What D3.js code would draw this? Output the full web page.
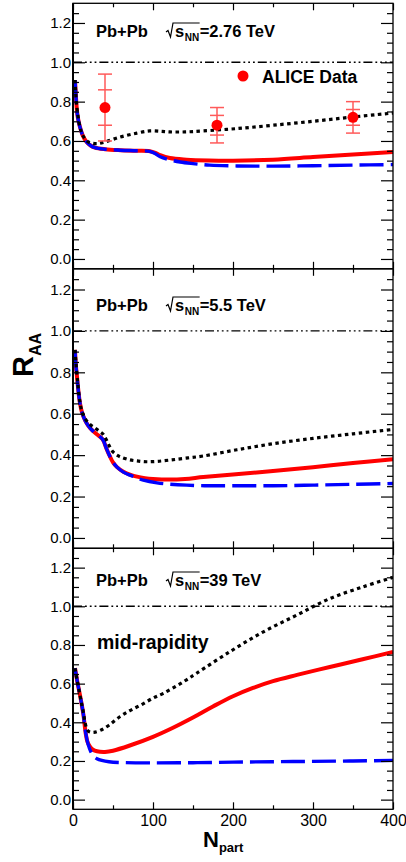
<!DOCTYPE html>
<html><head><meta charset="utf-8">
<script src="https://cdn.jsdelivr.net/npm/d3@7"></script>
<style>
body{margin:0;background:#fff}
svg{display:block}
text{font-family:"Liberation Sans",Arial,Helvetica,sans-serif}
</style>
</head><body>
<svg id="c" width="406" height="862"></svg>
<script>
// ---------------- data ----------------
const energies = ["2.76", "5.5", "39"];
const xTickValues = [0, 100, 200, 300, 400];
const xMinorValues = [50, 150, 250, 350];
const yTickValues = [0, 0.2, 0.4, 0.6, 0.8, 1.0, 1.2];

// Pb+Pb 2.76 TeV  [Npart, R_AA]
const red276 = [[2.5,0.91],[3.5,0.84],[4.6,0.77],[6,0.72],[8.75,0.67],[12,0.63],[17,0.595],[22,0.577],[27.5,0.566],[40,0.558],[59,0.553],[80,0.55],[96,0.548],[103,0.54],[109,0.528],[121,0.513],[142,0.505],[170,0.501],[200,0.5],[250,0.505],[300,0.518],[350,0.531],[400,0.544]];
const blue276 = [[2.5,0.91],[3.5,0.84],[4.6,0.77],[6,0.72],[8.75,0.67],[12,0.63],[17,0.595],[22,0.577],[27.5,0.566],[40,0.558],[59,0.553],[80,0.55],[96,0.547],[103,0.535],[109,0.52],[120,0.505],[134,0.493],[150,0.485],[171,0.477],[205,0.473],[250,0.472],[300,0.474],[350,0.477],[400,0.48]];
const black276 = [[2.5,0.91],[4.6,0.78],[8.75,0.67],[12,0.63],[19,0.595],[25,0.588],[31.6,0.587],[40,0.595],[59,0.62],[80,0.64],[96,0.651],[110,0.649],[121,0.646],[140,0.646],[163,0.651],[205,0.663],[250,0.68],[300,0.7],[350,0.722],[400,0.742]];

// Pb+Pb 5.5 TeV
const red55 = [[2.5,0.908],[3.5,0.84],[5.4,0.763],[7,0.7],[8.75,0.65],[11,0.61],[15,0.569],[19,0.543],[23,0.524],[29,0.503],[36,0.481],[38,0.47],[42,0.43],[46,0.395],[50,0.365],[55,0.342],[63,0.32],[72,0.305],[80,0.296],[90,0.289],[100,0.285],[121,0.282],[140,0.285],[163,0.294],[200,0.306],[250,0.323],[300,0.342],[350,0.362],[400,0.38]];
const blue55 = [[2.5,0.908],[3.5,0.84],[5.4,0.763],[7,0.7],[8.75,0.65],[11,0.61],[15,0.569],[19,0.543],[23,0.524],[29,0.503],[36,0.481],[38,0.47],[42,0.43],[46,0.395],[50,0.365],[55,0.342],[63,0.318],[72,0.302],[80,0.29],[88,0.279],[105,0.266],[120,0.26],[142,0.255],[170,0.252],[200,0.252],[250,0.252],[300,0.255],[350,0.259],[400,0.263]];
const black55 = [[2.5,0.908],[5.4,0.77],[8.75,0.655],[11,0.615],[15,0.578],[21,0.549],[28,0.53],[34,0.513],[38,0.5],[42,0.472],[46,0.44],[50,0.416],[55,0.4],[59,0.392],[70,0.378],[80,0.372],[92,0.368],[105,0.37],[121,0.376],[140,0.385],[163,0.396],[205,0.426],[250,0.455],[300,0.481],[350,0.503],[400,0.524]];

// Pb+Pb 39 TeV
const red39 = [[2.5,0.68],[5,0.62],[8.75,0.54],[11,0.49],[13,0.44],[16,0.34],[18,0.3],[21,0.275],[25,0.258],[30,0.25],[40,0.247],[50,0.253],[71,0.28],[100,0.325],[125,0.372],[150,0.425],[175,0.482],[200,0.535],[225,0.578],[250,0.613],[280,0.645],[321,0.686],[362,0.726],[400,0.764]];
const blue39 = [[2.5,0.68],[5,0.62],[8.75,0.54],[11,0.49],[13,0.44],[15,0.37],[17,0.32],[19,0.285],[22,0.25],[26,0.225],[30,0.212],[36,0.203],[45,0.196],[60,0.192],[100,0.19],[150,0.191],[200,0.194],[250,0.196],[300,0.198],[350,0.2],[400,0.203]];
const black39 = [[2.5,0.68],[5,0.62],[8.75,0.54],[11,0.49],[13,0.45],[15,0.4],[18,0.36],[21,0.35],[26,0.348],[34,0.358],[45,0.385],[59,0.43],[71,0.46],[85,0.49],[100,0.525],[113,0.55],[130,0.59],[142,0.62],[155,0.655],[196,0.765],[238,0.868],[280,0.955],[321,1.04],[362,1.1],[400,1.15]];

// ALICE data (2.76 TeV)
const aliceN = [40, 180, 350];
const aliceR = [0.77, 0.68, 0.72];
const aliceStat = [0.09, 0.05, 0.04];
const aliceSys = [0.17, 0.09, 0.08];

// ---------------- layout ----------------
const svg = d3.select("#c");
const xL = 73, xR = 393;
const panels = [
  {top: 3.3, bottom: 268.8, red: red276, blue: blue276, black: black276, titleY: 37},
  {top: 268.8, bottom: 548.3, red: red55, blue: blue55, black: black55, titleY: 311},
  {top: 548.3, bottom: 809.3, red: red39, blue: blue39, black: black39, titleY: 586}
];
const x = d3.scaleLinear().domain([0, 400]).range([xL, xR]);
const yMinor = d3.range(-0.05, 1.31, 0.05).map(v => +v.toFixed(2)).filter(v => yTickValues.indexOf(v) < 0 && v > -0.04 && v < 1.29);

panels.forEach((p, i) => {
  const y = d3.scaleLinear().domain([-0.05, 1.3]).range([p.bottom, p.top]);
  const g = svg.append("g");
  const clipId = "clip" + i;
  g.append("clipPath").attr("id", clipId).append("rect")
    .attr("x", xL).attr("y", p.top).attr("width", xR - xL).attr("height", p.bottom - p.top);

  // reference line at 1
  g.append("line").attr("x1", xL).attr("x2", xR).attr("y1", y(1)).attr("y2", y(1))
    .attr("stroke", "#000").attr("stroke-width", 1.4)
    .attr("stroke-dasharray", "9,3,1.8,3,1.8,3,1.8,3");

  const line = d3.line().x(d => x(d[0])).y(d => y(d[1])).curve(d3.curveCatmullRom.alpha(0.5));
  const cg = g.append("g").attr("clip-path", `url(#${clipId})`);
  cg.append("path").datum(p.red).attr("d", line).attr("fill", "none")
    .attr("stroke", "#ff0000").attr("stroke-width", 4);
  cg.append("path").datum(p.blue).attr("d", line).attr("fill", "none")
    .attr("stroke", "#0000ff").attr("stroke-width", 3.4).attr("stroke-dasharray", "24,7");
  cg.append("path").datum(p.black).attr("d", line).attr("fill", "none")
    .attr("stroke", "#000").attr("stroke-width", 3.2).attr("stroke-dasharray", "3.5,3.5");

  // axes
  const fmt = d3.format(".1f");
  const ax = g.append("g").attr("transform", `translate(${xL},0)`)
    .call(d3.axisLeft(y).tickValues(yTickValues).tickSize(-12).tickPadding(2).tickFormat(fmt));
  g.append("g").attr("transform", `translate(${xL},0)`)
    .call(d3.axisLeft(y).tickValues(yMinor).tickSize(-6).tickFormat(""));
  g.append("g").attr("transform", `translate(${xR},0)`)
    .call(d3.axisRight(y).tickValues(yTickValues).tickSize(-12).tickFormat(""));
  g.append("g").attr("transform", `translate(${xR},0)`)
    .call(d3.axisRight(y).tickValues(yMinor).tickSize(-6).tickFormat(""));
  g.append("g").attr("transform", `translate(0,${p.top})`)
    .call(d3.axisTop(x).tickValues(xTickValues).tickSize(-7).tickFormat(""));
  g.append("g").attr("transform", `translate(0,${p.top})`)
    .call(d3.axisTop(x).tickValues(xMinorValues).tickSize(-4).tickFormat(""));
  const bx = g.append("g").attr("transform", `translate(0,${p.bottom})`)
    .call(d3.axisBottom(x).tickValues(xTickValues).tickSize(-7).tickPadding(5)
      .tickFormat(i === 2 ? d3.format("d") : ""));
  g.append("g").attr("transform", `translate(0,${p.bottom})`)
    .call(d3.axisBottom(x).tickValues(xMinorValues).tickSize(-4).tickFormat(""));
  g.selectAll(".domain").remove();
  g.selectAll(".tick line").attr("stroke", "#000").attr("stroke-width", 1.2);
  ax.selectAll("text").attr("font-size", 15).attr("fill", "#000")
    .style("font-family", "'Liberation Sans', Arial, sans-serif");
  bx.selectAll("text").attr("font-size", 16).attr("fill", "#000")
    .style("font-family", "'Liberation Sans', Arial, sans-serif");

  // frame
  g.append("rect").attr("x", xL).attr("y", p.top).attr("width", xR - xL).attr("height", p.bottom - p.top)
    .attr("fill", "none").attr("stroke", "#000").attr("stroke-width", 1.3);
  g.append("line").attr("x1", xL).attr("x2", xL).attr("y1", p.top).attr("y2", p.bottom)
    .attr("stroke", "#000").attr("stroke-width", 2);

  // title
  const b = p.titleY;
  g.append("text").attr("x", 96).attr("y", b).attr("font-size", 16.5).attr("font-weight", "bold").text("Pb+Pb");
  const x0 = 166;
  const sT = g.append("text").attr("x", x0 + 9).attr("y", b).attr("font-size", 16.5).attr("font-weight", "bold").text("s");
  const sW = sT.node().getComputedTextLength();
  const nT = g.append("text").attr("x", x0 + 9 + sW + 0.5).attr("y", b + 3.5).attr("font-size", 10).attr("font-weight", "bold").text("NN");
  const nW = nT.node().getComputedTextLength();
  const eX = x0 + 9 + sW + 0.5 + nW + 0.5;
  g.append("text").attr("x", eX).attr("y", b).attr("font-size", 16.5).attr("font-weight", "bold").text("=" + energies[i] + " TeV");
  g.append("path").attr("d", `M${x0},${b-5} L${x0+2},${b-6.5} L${x0+4.5},${b} L${x0+7},${b-14} L${eX},${b-14}`)
    .attr("fill", "none").attr("stroke", "#000").attr("stroke-width", 1.2);

  if (i === 0) {
    // ALICE data
    const eg = g.append("g");
    aliceN.forEach((n, k) => {
      const cx = x(n);
      const col = "#ff5a5a";
      eg.append("line").attr("x1", cx).attr("x2", cx)
        .attr("y1", y(aliceR[k] - aliceSys[k])).attr("y2", y(aliceR[k] + aliceSys[k]))
        .attr("stroke", col).attr("stroke-width", 1.5);
      [aliceSys[k], -aliceSys[k], aliceStat[k], -aliceStat[k]].forEach(e => {
        eg.append("line").attr("x1", cx - 7).attr("x2", cx + 7)
          .attr("y1", y(aliceR[k] + e)).attr("y2", y(aliceR[k] + e))
          .attr("stroke", col).attr("stroke-width", 1.5);
      });
      eg.append("circle").attr("cx", cx).attr("cy", y(aliceR[k])).attr("r", 5.5).attr("fill", "#ff0000");
    });
    // legend
    g.append("circle").attr("cx", 243).attr("cy", 76).attr("r", 5.5).attr("fill", "#ff0000");
    g.append("text").attr("x", 262).attr("y", 83).attr("font-size", 17.5).attr("font-weight", "bold").text("ALICE Data");
  }
  if (i === 2) {
    g.append("text").attr("x", 97).attr("y", 649).attr("font-size", 19.5).attr("font-weight", "bold").text("mid-rapidity");
  }
});

// Y axis title
const yt = svg.append("text").attr("transform", "translate(33,377) rotate(-90)").attr("font-weight", "bold");
yt.append("tspan").attr("font-size", 29).text("R");
yt.append("tspan").attr("font-size", 16).attr("dy", 8).text("AA");

// X axis title
const xt = svg.append("text").attr("x", 203).attr("y", 847).attr("font-weight", "bold");
xt.append("tspan").attr("font-size", 22).text("N");
xt.append("tspan").attr("font-size", 13).attr("dy", 5).text("part");
</script>
</body></html>
